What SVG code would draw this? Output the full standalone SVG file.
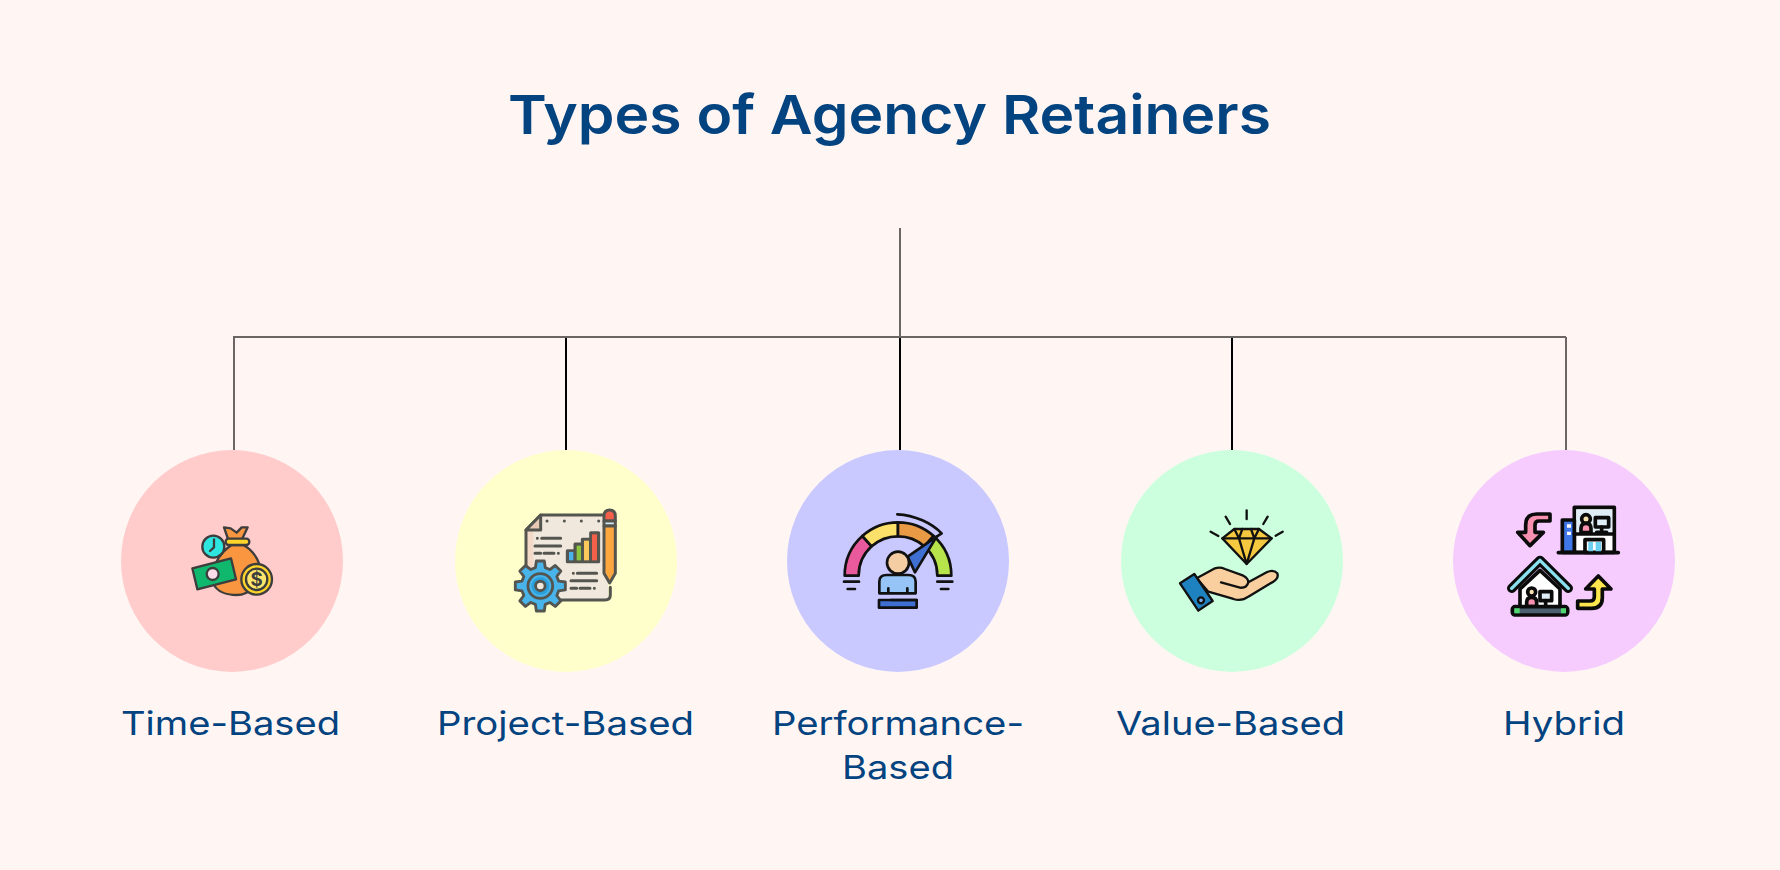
<svg xmlns="http://www.w3.org/2000/svg" width="1780" height="870" viewBox="0 0 1780 870">
<style>
text{font-family:Inter,"Open Sans","Liberation Sans",sans-serif;fill:#03437f}
.t{font-size:54px;font-weight:600}
.l{font-size:33px;font-weight:400}
.g{stroke:#6b6664;stroke-width:2;fill:none}
.k{stroke:#000;stroke-width:2;fill:none}
.i1 *,.i2 *,.i3 *,.i4 *,.i5 *{stroke-linejoin:round;stroke-linecap:round}
.i1 *{stroke:#3d3d3d;stroke-width:7}
.i2 *{stroke:#555550;stroke-width:9}
.i3 *{stroke:#111;stroke-width:8}
.i4 *{stroke:#111;stroke-width:7}
.i5 *{stroke:#0b0b0b;stroke-width:11}
.i1 .n,.i2 .n,.i3 .n,.i4 .n,.i5 .n{stroke:none}
.o{fill:none}
</style>
<rect width="1780" height="870" fill="#fff6f4"/>
<text id="title" class="t" x="508" y="134" textLength="763" lengthAdjust="spacingAndGlyphs">Types of Agency Retainers</text>
<g id="connectors">
<path class="g" d="M900 228V337M233 337H1566M234 336V450M1566 337V450"/>
<path class="k" d="M566 338V450M900 338V450M1232 338V450"/>
</g>

<g id="node-time">
<circle cx="232" cy="561" r="111" fill="#ffcccb"/>
<g class="i1" transform="translate(160 490) scale(.3333)">
<path d="M205 150L192 112L212 115L230 128L245 112L263 112L245 150Z" fill="#f9963f"/>
<path d="M215 165C175 190 150 240 160 280C170 305 200 315 230 315C270 315 300 280 300 240C300 205 270 175 250 165Z" fill="#f9963f"/>
<rect x="197" y="146" width="71" height="19" rx="9" fill="#ffd52a"/>
<circle cx="160" cy="170" r="33" fill="#2ee6e0"/>
<path class="o" d="M162 148V172L150 183"/>
<path d="M97 235L213 205L228 268L112 298Z" fill="#10b86e"/>
<circle cx="158" cy="252" r="18" fill="#f9dde8"/>
<circle cx="290" cy="268" r="46" fill="#ffd52a"/>
<circle cx="290" cy="268" r="32" fill="#fde66b"/>
<text class="n" x="290" y="288" text-anchor="middle" font-size="56" font-weight="700" style="fill:#3d3d3d">$</text>
</g>
</g>

<g id="node-project">
<circle cx="566" cy="561" r="111" fill="#ffffcc"/>
<g class="i2" transform="translate(500 490) scale(.3333)">
<path class="n" d="M78 120L122 75H325V330H78Z" fill="#f0e8dd"/>
<path class="n" d="M78 120H100V330H78Z" fill="#f2d9c8"/>
<path class="o" d="M78 230V120L122 75H312M331 292V315Q331 330 315 330H180"/>
<path d="M78 120H122V75Z" fill="#e9c9b4"/>
<path class="o" d="M141 93h.1M193 93h.1M244 93h.1M296 93h.1M112 145h.1M125 145H182M105 168H182M105 190H122M132 190H162M175 190h.1M220 250h.1M232 250H290M213 272H290M213 295H230M240 295H270M283 295h.1"/>
<path d="M202 215V182H225V162H247V148H272V128H296V215Z" fill="#555550"/>
<rect class="n" x="207" y="186" width="13" height="25" fill="#4bb4ea"/>
<rect class="n" x="230" y="167" width="13" height="44" fill="#8cc63f"/>
<rect class="n" x="252" y="152" width="15" height="59" fill="#fdc95c"/>
<rect class="n" x="276" y="133" width="15" height="78" fill="#f4604a"/>
<path d="M312 93V78Q312 60 329 60Q346 60 346 78V93Z" fill="#f4604a"/>
<rect x="312" y="93" width="34" height="15" fill="#d3e8f0"/>
<path d="M312 108H346V250L329 279L312 250Z" fill="#ffa73f"/>
<g transform="translate(121 288) scale(.95)">
<path d="M58 -15.5L79 -12.5L79 12.5L58 15.5L52 30L64.700 47L47 64.700L30 52L15.500 58L12.500 79L-12.500 79L-15.500 58L-30 52L-47 64.700L-64.700 47L-52 30L-58 15.500L-79 12.500L-79 -12.500L-58 -15.500L-52 -30L-64.700 -47L-47 -64.700L-30 -52L-15.500 -58L-12.500 -79L12.500 -79L15.500 -58L30 -52L47 -64.700L64.700 -47L52 -30Z" fill="#48b4ea"/>
<circle r="39" fill="none"/>
<circle r="28" fill="#2aa0dc" class="n"/>
<circle r="15" fill="#f0e8dd"/>
</g>
</g>
</g>

<g id="node-performance">
<circle cx="898" cy="561" r="111" fill="#c9c9ff"/>
<g class="i3" transform="translate(825 495) scale(.3333)">
<path d="M59 242A160 160 0 0 1 112 123L140 154A118 118 0 0 0 101 242Z" fill="#e85a9b"/>
<path d="M112 123A160 160 0 0 1 219 82V124A118 118 0 0 0 140 154Z" fill="#fbe06a"/>
<path d="M219 82A160 160 0 0 1 326 123L298 154A118 118 0 0 0 219 124Z" fill="#e89a45"/>
<path d="M326 123A160 160 0 0 1 379 242H337A118 118 0 0 0 298 154Z" fill="#b7e34b"/>
<path class="o" d="M217 58C270 60 320 85 350 115L335 125"/>
<path d="M335 125L248 185L270 232Z" fill="#3f6fd1"/>
<circle cx="219" cy="203" r="33" fill="#f5cda3"/>
<path d="M163 295V260Q163 240 185 240H250Q272 240 272 260V295Z" fill="#96c4f7"/>
<path class="o" d="M190 280V293M247 280V293M57 260H102M68 282H90M337 260H382M348 282H370"/>
<rect x="162" y="315" width="113" height="23" fill="#3f6fd1"/>
<path class="o" d="M198 315H275"/>
</g>
</g>

<g id="node-value">
<circle cx="1232" cy="561" r="111" fill="#ccffdd"/>
<g class="i4" transform="translate(1165 495) scale(.3333)">
<path d="M208 102H282L320 130L245 207L172 130Z" fill="#f5c93f"/>
<path class="o" d="M172 130H320M232 102L222 130L245 207L268 130L258 102M208 102L222 130M282 102L268 130M245 46V72M182 65L195 87M308 65L295 87M137 110L160 123M353 110L332 122"/>
<path d="M95 250L150 220Q165 215 180 222L235 242Q250 250 250 262L305 232Q325 222 337 235Q342 250 325 260L250 305Q230 320 205 312L130 290Z" fill="#f9cf9f"/>
<path class="o" d="M168 262L225 278Q245 280 250 262"/>
<path d="M45 265L88 237L143 318L100 347Z" fill="#1f82c0"/>
<circle cx="108" cy="316" r="9" fill="#7fb0f0"/>
</g>
</g>

<g id="node-hybrid">
<circle cx="1564" cy="561" r="111" fill="#f6ccff"/>
<g class="i5" transform="translate(1495 495) scale(.3333)">
<path d="M165 57H125Q92 57 92 90V112H68L105 152L145 112H120V90Q120 78 132 78H165Z" fill="#f890b0"/>
<path d="M248 318H285Q298 318 298 305V282H272L310 243L348 282H322V308Q322 340 290 340H248Z" fill="#ffe84d"/>
<rect x="238" y="37" width="120" height="135" fill="#fff"/>
<rect class="n" x="245" y="44" width="106" height="66" fill="#dfeef6"/>
<rect x="202" y="75" width="36" height="97" fill="#3f77e8"/>
<path class="n" d="M216 88h12v10h-12zM216 110h12v10h-12z" fill="#fff"/>
<path class="o" d="M238 117H358M190 173H370"/>
<circle cx="273" cy="72" r="13" fill="#f5e0b0"/>
<path d="M258 113V100Q258 85 273 85Q288 85 288 100V113Z" fill="#f890b0"/>
<rect x="301" y="68" width="40" height="28" fill="#dfeef6"/>
<path class="o" d="M320 96V112M305 112H335"/>
<rect x="270" y="134" width="56" height="38" fill="#fff"/>
<path class="n" d="M280 141h14v28h-14zM302 141h16v28h-16z" fill="#6cd0f0"/>
<path d="M75 345V282L135 226L195 282V345Z" fill="#fff"/>
<path class="o" d="M50 280L135 196L220 280" style="stroke:#0b0b0b;stroke-width:28"/>
<path class="o" d="M50 280L135 196L220 280" style="stroke:#8be0f0;stroke-width:10"/>
<circle cx="110" cy="291" r="12" fill="#f5e0b0"/>
<path d="M95 335V322Q95 307 110 307Q125 307 125 322V335Z" fill="#f890b0"/>
<rect x="135" y="290" width="35" height="27" fill="#dfeef6"/>
<path class="o" d="M152 317V335"/>
<rect x="52" y="335" width="166" height="25" rx="8" fill="#4c6070"/>
<path class="n" d="M58 340h16v15h-16zM198 340h15v15h-15z" fill="#50d870"/>
</g>
</g>

<text id="label-time" class="l" x="121" y="735" textLength="219" lengthAdjust="spacingAndGlyphs">Time-Based</text>
<text id="label-project" class="l" x="437" y="735" textLength="257" lengthAdjust="spacingAndGlyphs">Project-Based</text>
<text id="label-perf1" class="l" x="772" y="735" textLength="252" lengthAdjust="spacingAndGlyphs">Performance-</text>
<text id="label-perf2" class="l" x="842" y="779" textLength="112" lengthAdjust="spacingAndGlyphs">Based</text>
<text id="label-value" class="l" x="1116" y="735" textLength="229" lengthAdjust="spacingAndGlyphs">Value-Based</text>
<text id="label-hybrid" class="l" x="1503" y="735" textLength="122" lengthAdjust="spacingAndGlyphs">Hybrid</text>
</svg>
